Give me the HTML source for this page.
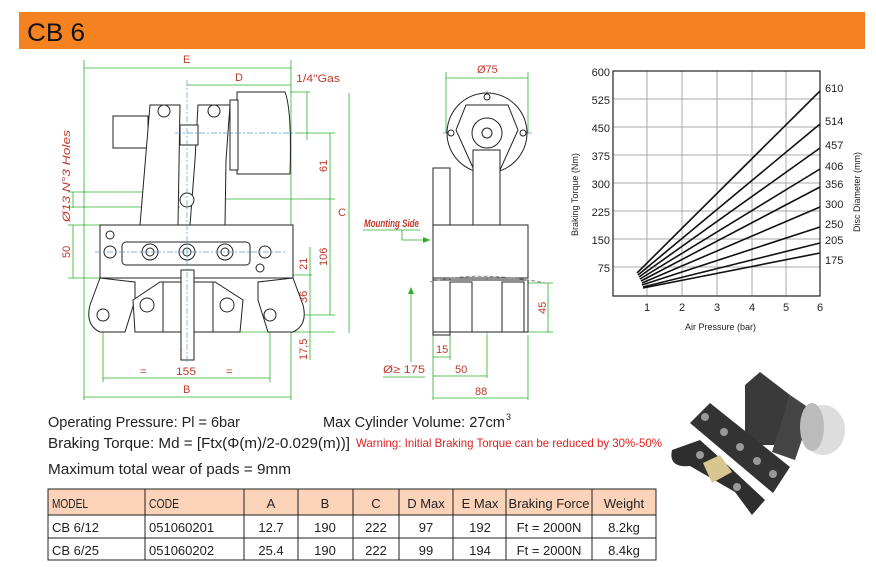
<!DOCTYPE html>
<html><head><meta charset="utf-8"><style>
html,body{margin:0;padding:0;background:#fff;}
svg{display:block;}
text{font-family:"Liberation Sans Narrow","Liberation Sans",sans-serif;}
</style></head><body>
<svg width="876" height="567" viewBox="0 0 876 567" xmlns="http://www.w3.org/2000/svg">
<rect x="19" y="12" width="846" height="37" fill="#F58220"/>
<text x="27" y="41" font-size="25" textLength="58" lengthAdjust="spacingAndGlyphs" fill="#111">CB 6</text>

<!-- LEFT DRAWING -->
<g stroke="#2bb02b" stroke-width="0.8" fill="none">
<line x1="84" y1="68" x2="291" y2="68"/><line x1="84" y1="60" x2="84" y2="400"/><line x1="291" y1="60" x2="291" y2="400"/>
<line x1="187" y1="85" x2="291" y2="85"/>
<line x1="84" y1="397" x2="291" y2="397"/><line x1="103" y1="378" x2="270" y2="378"/>
<line x1="103" y1="315" x2="103" y2="382"/><line x1="270" y1="315" x2="270" y2="382"/>
<line x1="180" y1="350" x2="194" y2="350"/>
<line x1="73" y1="225" x2="73" y2="278"/><line x1="68" y1="225" x2="100" y2="225"/><line x1="68" y1="278" x2="100" y2="278"/>
<line x1="73" y1="192" x2="73" y2="208"/><line x1="68" y1="192" x2="180" y2="192"/><line x1="68" y1="207" x2="180" y2="207"/>
<line x1="330" y1="133" x2="330" y2="315"/><line x1="295" y1="133" x2="335" y2="133"/><line x1="200" y1="199" x2="335" y2="199"/>
<line x1="310" y1="247" x2="310" y2="334"/><line x1="280" y1="275" x2="312" y2="275"/><line x1="280" y1="315" x2="335" y2="315"/><line x1="240" y1="332" x2="335" y2="332"/>
<line x1="310" y1="334" x2="310" y2="360"/>
<line x1="307" y1="92" x2="307" y2="140"/><line x1="290" y1="92" x2="310" y2="92"/>
<line x1="349" y1="93" x2="349" y2="333"/>
</g>
<g fill="#c0392b" font-size="11">
<text x="183" y="63">E</text><text x="235" y="81">D</text>
<text x="296" y="82" textLength="44" lengthAdjust="spacingAndGlyphs">1/4"Gas</text>
<text x="183" y="393">B</text><text x="176" y="375" textLength="20" lengthAdjust="spacingAndGlyphs">155</text>
<text x="140" y="375">=</text><text x="226" y="375">=</text>
<text x="183" y="356">A</text>
<text transform="translate(70,258) rotate(-90)">50</text>
<text transform="translate(70,222) rotate(-90)" font-style="italic" textLength="92" lengthAdjust="spacingAndGlyphs">Ø13 N°3 Holes</text>
<text transform="translate(327,172) rotate(-90)">61</text>
<text transform="translate(327,266) rotate(-90)">106</text>
<text transform="translate(307,270) rotate(-90)">21</text>
<text transform="translate(307,303) rotate(-90)">36</text>
<text transform="translate(307,360) rotate(-90)">17,5</text>
<text x="338" y="216">C</text>
</g>
<g stroke="#222" stroke-width="1" fill="#fff">
<rect x="113" y="116" width="35" height="32"/>
<path d="M150 105 L180 105 L178 225 L140 225 Z"/>
<path d="M198 105 L230 105 L226 160 L225 225 L190 225 L195 160 Z"/>
<circle cx="164" cy="111" r="6"/><circle cx="214" cy="111" r="6"/>
<rect x="180" y="125" width="18" height="20"/>
<path d="M237 92 L285 92 Q292 110 290 174 L237 174 Z"/>
<rect x="230" y="100" width="8" height="70"/>
<circle cx="187" cy="200" r="7"/>
<path d="M100 278 L90 305 Q85 325 100 332 L125 332 L135 300 L135 282 Z"/>
<path d="M293 278 L303 305 Q308 325 293 332 L268 332 L258 300 L258 282 Z"/>
<rect x="100" y="225" width="193" height="53"/>
<rect x="122" y="242" width="128" height="23" rx="4"/>
<path d="M133 300 L160 282 L215 282 L243 300 L240 332 L135 332 Z"/>
<rect x="163" y="282" width="50" height="50"/>
<rect x="181" y="270" width="13" height="90"/>
<circle cx="150" cy="252" r="8"/><circle cx="187" cy="252" r="8"/><circle cx="225" cy="252" r="8"/>
<circle cx="150" cy="252" r="4"/><circle cx="187" cy="252" r="4"/><circle cx="225" cy="252" r="4"/>
<circle cx="147" cy="305" r="7"/><circle cx="227" cy="305" r="7"/>
<circle cx="110" cy="252" r="6"/><circle cx="265" cy="252" r="6"/>
<circle cx="110" cy="235" r="4"/><circle cx="260" cy="268" r="4"/>
<circle cx="103" cy="315" r="6"/><circle cx="270" cy="315" r="6"/>
</g>
<g stroke="#5aa0d0" stroke-width="0.7" stroke-dasharray="6,2,2,2" fill="none">
<line x1="187" y1="80" x2="187" y2="362"/><line x1="95" y1="252" x2="285" y2="252"/><line x1="175" y1="133" x2="295" y2="133"/>
<line x1="487" y1="90" x2="487" y2="335"/><line x1="443" y1="133" x2="532" y2="133"/>
</g>

<!-- SIDE DRAWING -->
<g stroke="#2bb02b" stroke-width="0.8" fill="none">
<line x1="446" y1="78" x2="528" y2="78"/><line x1="446" y1="72" x2="446" y2="133"/><line x1="528" y1="72" x2="528" y2="133"/>
<line x1="548" y1="283" x2="548" y2="332"/><line x1="528" y1="283" x2="553" y2="283"/><line x1="528" y1="332" x2="553" y2="332"/>
<line x1="433" y1="357" x2="450" y2="357"/><line x1="433" y1="376" x2="487" y2="376"/><line x1="433" y1="398" x2="528" y2="398"/>
<line x1="433" y1="335" x2="433" y2="400"/><line x1="450" y1="335" x2="450" y2="360"/><line x1="487" y1="335" x2="487" y2="378"/><line x1="528" y1="335" x2="528" y2="400"/>
<line x1="363" y1="230" x2="420" y2="230"/><path d="M402 230 L402 240 L430 240"/>
<line x1="411" y1="290" x2="411" y2="362"/><line x1="383" y1="377" x2="425" y2="377"/>
</g>
<path d="M430 240 l-7 -3 v6 z M411 287 l-3 7 h6 z" fill="#2bb02b"/>
<g fill="#c0392b" font-size="11">
<text x="477" y="73">Ø75</text>
<text x="364" y="227" font-size="11" font-style="italic" font-weight="bold" textLength="55" lengthAdjust="spacingAndGlyphs">Mounting Side</text>
<text transform="translate(546,314) rotate(-90)">45</text>
<text x="436" y="353">15</text><text x="455" y="373">50</text><text x="475" y="395">88</text>
<text x="383" y="373" textLength="42" lengthAdjust="spacingAndGlyphs">Ø≥ 175</text>
</g>
<g stroke="#222" stroke-width="1" fill="#fff">
<circle cx="487" cy="133" r="40"/>
<path d="M466 105 L508 105 L518 130 L500 170 L474 170 L456 130 Z"/>
<rect x="473" y="150" width="27" height="80"/>
<rect x="433" y="168" width="17" height="167"/>
<rect x="433" y="225" width="95" height="53"/>
<rect x="433" y="280" width="95" height="52"/>
<rect x="450" y="282" width="22" height="50"/><rect x="502" y="282" width="22" height="50"/>
<circle cx="487" cy="133" r="15"/><circle cx="487" cy="133" r="5"/>
<circle cx="451" cy="133" r="3"/><circle cx="523" cy="133" r="3"/><circle cx="487" cy="97" r="3"/>
</g>
<path d="M430 282 Q480 270 545 283" stroke="#888" stroke-dasharray="4,2" fill="none"/>

<!-- CHART -->
<g stroke="#aaa" stroke-width="1">
<line x1="647" y1="71" x2="647" y2="296"/><line x1="682" y1="71" x2="682" y2="296"/><line x1="717" y1="71" x2="717" y2="296"/><line x1="752" y1="71" x2="752" y2="296"/><line x1="786" y1="71" x2="786" y2="296"/>
<line x1="613" y1="99" x2="820" y2="99"/><line x1="613" y1="127" x2="820" y2="127"/><line x1="613" y1="155" x2="820" y2="155"/><line x1="613" y1="183" x2="820" y2="183"/><line x1="613" y1="211" x2="820" y2="211"/><line x1="613" y1="239" x2="820" y2="239"/><line x1="613" y1="267" x2="820" y2="267"/>
</g>
<rect x="613" y="71" width="207" height="225" fill="none" stroke="#222" stroke-width="1.2"/>
<g stroke="#111" stroke-width="1.6">
<line x1="637" y1="273" x2="820" y2="91"/><line x1="638" y1="275" x2="820" y2="124"/><line x1="639" y1="277" x2="820" y2="148"/><line x1="640" y1="279" x2="820" y2="169"/><line x1="641" y1="281" x2="820" y2="187"/><line x1="642" y1="283" x2="820" y2="207"/><line x1="642" y1="285" x2="820" y2="227"/><line x1="643" y1="287" x2="820" y2="243"/><line x1="643" y1="288" x2="820" y2="253"/>
</g>
<g font-size="11" fill="#222">
<g text-anchor="end"><text x="610" y="76">600</text><text x="610" y="104">525</text><text x="610" y="132">450</text><text x="610" y="160">375</text><text x="610" y="188">300</text><text x="610" y="216">225</text><text x="610" y="244">150</text><text x="610" y="272">75</text></g>
<g text-anchor="middle"><text x="647" y="311">1</text><text x="682" y="311">2</text><text x="717" y="311">3</text><text x="752" y="311">4</text><text x="786" y="311">5</text><text x="820" y="311">6</text></g>
<text x="825" y="92">610</text><text x="825" y="125">514</text><text x="825" y="149">457</text><text x="825" y="170">406</text><text x="825" y="188">356</text><text x="825" y="208">300</text><text x="825" y="228">250</text><text x="825" y="244">205</text><text x="825" y="264">175</text>
<text x="685" y="330" font-size="9">Air Pressure (bar)</text>
<text transform="translate(578,236) rotate(-90)" font-size="9">Braking Torque (Nm)</text>
<text transform="translate(860,232) rotate(-90)" font-size="9">Disc Diameter (mm)</text>
</g>

<!-- PHOTO -->
<g>
<path d="M745 385 L760 372 L790 395 L775 445 L745 445 Z" fill="#3a3a3a"/>
<path d="M790 395 L812 410 L795 460 L772 452 Z" fill="#444"/>
<ellipse cx="823" cy="430" rx="22" ry="25" fill="#ddd"/>
<ellipse cx="812" cy="427" rx="12" ry="24" fill="#bbb"/>
<path d="M690 423 L710 403 L790 467 L773 493 Z" fill="#333"/>
<path d="M672 450 Q668 468 690 466 L735 492 L752 515 L765 500 L720 458 L700 440 Z" fill="#2e2e2e"/>
<path d="M703 463 L720 455 L732 472 L712 483 Z" fill="#d8c690"/>
<g fill="#999"><circle cx="705" cy="417" r="4"/><circle cx="724" cy="432" r="4"/><circle cx="740" cy="447" r="4"/><circle cx="757" cy="461" r="4"/><circle cx="773" cy="474" r="4"/><circle cx="700" cy="455" r="4"/><circle cx="737" cy="487" r="4"/></g>
</g>

<!-- TEXT -->
<g font-size="15" fill="#222">
<text x="48" y="427" textLength="192" lengthAdjust="spacingAndGlyphs">Operating Pressure: Pl = 6bar</text>
<text x="323" y="427" textLength="182" lengthAdjust="spacingAndGlyphs">Max Cylinder Volume: 27cm</text><text x="506" y="420" font-size="9">3</text>
<text x="48" y="448" textLength="302" lengthAdjust="spacingAndGlyphs">Braking Torque: Md = [Ftx(Φ(m)/2-0.029(m))]</text>
<text x="356" y="447" font-size="12" fill="#e02020" textLength="306" lengthAdjust="spacingAndGlyphs">Warning: Initial Braking Torque can be reduced by 30%-50%</text>
<text x="48" y="474" textLength="243" lengthAdjust="spacingAndGlyphs">Maximum total wear of pads = 9mm</text>
</g>

<!-- TABLE -->
<rect x="48" y="489" width="608" height="26" fill="#FAD3B8"/>
<g stroke="#222" stroke-width="1" fill="none">
<rect x="48" y="489" width="608" height="71"/>
<line x1="48" y1="515" x2="656" y2="515"/><line x1="48" y1="538" x2="656" y2="538"/>
<line x1="145" y1="489" x2="145" y2="560"/><line x1="244" y1="489" x2="244" y2="560"/><line x1="298" y1="489" x2="298" y2="560"/><line x1="353" y1="489" x2="353" y2="560"/><line x1="399" y1="489" x2="399" y2="560"/><line x1="453" y1="489" x2="453" y2="560"/><line x1="506" y1="489" x2="506" y2="560"/><line x1="592" y1="489" x2="592" y2="560"/>
</g>
<g font-size="13" fill="#222">
<text x="52" y="508" textLength="36" lengthAdjust="spacingAndGlyphs">MODEL</text><text x="149" y="508" textLength="30" lengthAdjust="spacingAndGlyphs">CODE</text>
<g text-anchor="middle">
<text x="271" y="508">A</text><text x="325" y="508">B</text><text x="376" y="508">C</text><text x="426" y="508">D Max</text><text x="480" y="508">E Max</text><text x="549" y="508">Braking Force</text><text x="624" y="508">Weight</text>
<text x="271" y="532">12.7</text><text x="325" y="532">190</text><text x="376" y="532">222</text><text x="426" y="532">97</text><text x="480" y="532">192</text><text x="549" y="532">Ft = 2000N</text><text x="624" y="532">8.2kg</text>
<text x="271" y="555">25.4</text><text x="325" y="555">190</text><text x="376" y="555">222</text><text x="426" y="555">99</text><text x="480" y="555">194</text><text x="549" y="555">Ft = 2000N</text><text x="624" y="555">8.4kg</text>
</g>
<text x="52" y="532">CB 6/12</text><text x="149" y="532">051060201</text>
<text x="52" y="555">CB 6/25</text><text x="149" y="555">051060202</text>
</g>
</svg>
</body></html>
